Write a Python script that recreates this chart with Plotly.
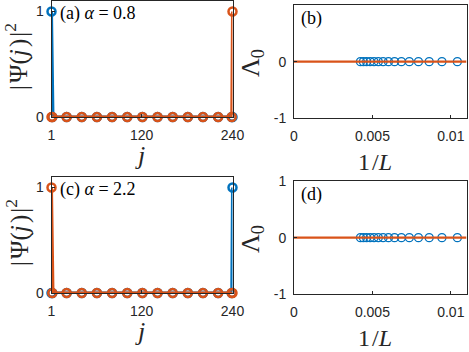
import plotly.graph_objects as go

W, H = 469, 352

# data
j = list(range(1, 241))
marker_j = [1, 2, 21, 41, 61, 81, 101, 121, 141, 161, 181, 201, 221, 239, 240]

psi_blue_a = [1.0] + [0.0] * 239
psi_orange_a = [0.0] * 239 + [1.0]
psi_blue_c = [0.0] * 239 + [1.0]
psi_orange_c = [1.0] + [0.0] * 239

L_sizes = [96, 106, 116, 126, 136, 146, 156, 166, 176, 186, 196, 206, 216, 226, 236]
lam0_b = [0, 0, 0, 0, 0, 0, 0, 0, 0, 0, 0, 0, 0, 0, 0]
lam0_d = [0, 0, 0, 0, 0, 0, 0, 0, 0, 0, 0, 0, 0, 0, 0]
fit_x = [0, 0.011]
fit_y = [0, 0]

BLUE = '#0072BD'
ORANGE = '#D95319'
AX = '#262626'


def px_x(p):
	return p / W


def px_y(p):
	return 1 - p / H


fig = go.Figure()


def psi_panel(n, blue, orange):
	xa = 'x' if n == 1 else 'x%d' % n
	ya = 'y' if n == 1 else 'y%d' % n
	for vals, col in [(blue, BLUE), (orange, ORANGE)]:
		fig.add_trace(go.Scatter(x=j, y=vals, mode='lines', line=dict(color=col, width=3),
								 xaxis=xa, yaxis=ya, cliponaxis=False, showlegend=False))
		mv = [vals[k - 1] for k in marker_j]
		fig.add_trace(go.Scatter(x=marker_j, y=mv, mode='markers',
								 marker=dict(symbol='circle-open', size=8, color=col, line=dict(width=2.5)),
								 xaxis=xa, yaxis=ya, cliponaxis=False, showlegend=False))


def lam_panel(n, lam):
	xa = 'x%d' % n
	ya = 'y%d' % n
	fig.add_trace(go.Scatter(x=[1.0 / L for L in L_sizes], y=lam, mode='markers',
							 marker=dict(symbol='circle-open', size=8, color=BLUE, line=dict(width=1.3)),
							 xaxis=xa, yaxis=ya, cliponaxis=False, showlegend=False))
	fig.add_trace(go.Scatter(x=fit_x, y=fit_y, mode='lines', line=dict(color=ORANGE, width=2.2),
							 xaxis=xa, yaxis=ya, showlegend=False))


psi_panel(1, psi_blue_a, psi_orange_a)
lam_panel(2, lam0_b)
psi_panel(3, psi_blue_c, psi_orange_c)
lam_panel(4, lam0_d)

tickfont = dict(family='Liberation Sans, Arial', size=14, color=AX)
common = dict(showgrid=False, zeroline=False, showline=True, linecolor=AX, linewidth=1,
			  mirror=True, ticks='inside', ticklen=3, tickcolor=AX, tickfont=tickfont,
			  automargin=False)
xcommon = dict(ticklabelstandoff=5, **common)
ycommon = dict(ticklabelstandoff=4, **common)

left_x = [px_x(51.5), px_x(232.5)]
right_x = [px_x(294), px_x(466.5)]
lam_ticks = dict(range=[-1, 1], tickvals=[-1, 0, 1], ticktext=['-1', '0', '1'])
inv_ticks = dict(range=[0, 0.011], tickvals=[0, 0.005, 0.01], ticktext=['0', '0.005', '0.01'])

fig.update_layout(
	width=W, height=H,
	margin=dict(l=0, r=0, t=0, b=0),
	paper_bgcolor='white', plot_bgcolor='white',
	xaxis=dict(domain=left_x, range=[1, 240], tickvals=[1, 120, 240], anchor='y', **xcommon),
	yaxis=dict(domain=[px_y(117), px_y(1)], range=[0, 1.1], tickvals=[0, 1], anchor='x', **ycommon),
	xaxis2=dict(domain=right_x, anchor='y2', **inv_ticks, **xcommon),
	yaxis2=dict(domain=[px_y(118.3), px_y(5)], anchor='x2', **lam_ticks, **ycommon),
	xaxis3=dict(domain=left_x, range=[1, 240], tickvals=[1, 120, 240], anchor='y3', **xcommon),
	yaxis3=dict(domain=[px_y(293), px_y(177)], range=[0, 1.1], tickvals=[0, 1], anchor='x3', **ycommon),
	xaxis4=dict(domain=right_x, anchor='y4', **inv_ticks, **xcommon),
	yaxis4=dict(domain=[px_y(294.3), px_y(181)], anchor='x4', **lam_ticks, **ycommon),
)

serif = 'Liberation Serif'
titlefont = dict(family=serif, size=25, color=AX)
labfont = dict(family=serif, size=18, color='black')

notes = []
for off in [0, 176]:
	notes.append(dict(x=px_x(17), y=px_y(57 + off), text='|\u200aΨ(<i>j</i>\u200a)\u200a|<sup>2</sup>', textangle=-90, font=titlefont))
	notes.append(dict(x=px_x(140), y=px_y(155 + off), text='<i>j</i>', font=dict(family=serif, size=26, color=AX)))
	notes.append(dict(x=px_x(252), y=px_y(63 + off), text='Λ<sub>0</sub>', textangle=-90, font=dict(family=serif, size=26, color=AX)))
	notes.append(dict(x=px_x(375), y=px_y(162 + off), text='1\u200a/<i>L</i>', font=dict(family=serif, size=24, color=AX)))

notes.append(dict(x=px_x(58), y=px_y(13), text='(a) <i>α</i> = 0.8', xanchor='left', font=labfont))
notes.append(dict(x=px_x(58), y=px_y(189), text='(c) <i>α</i> = 2.2', xanchor='left', font=labfont))
notes.append(dict(x=px_x(299), y=px_y(18), text='(b)', xanchor='left', font=labfont))
notes.append(dict(x=px_x(299), y=px_y(194), text='(d)', xanchor='left', font=labfont))

for a in notes:
	a.update(xref='paper', yref='paper', showarrow=False)
	a.setdefault('xanchor', 'center')
	a.setdefault('yanchor', 'middle')
	fig.add_annotation(**a)

# page has a default 8px body margin, drop it so the figure sits at the window corner
fig.write_html("out.html", config={'displayModeBar': False},
			   post_script="document.body.style.margin='0';")
